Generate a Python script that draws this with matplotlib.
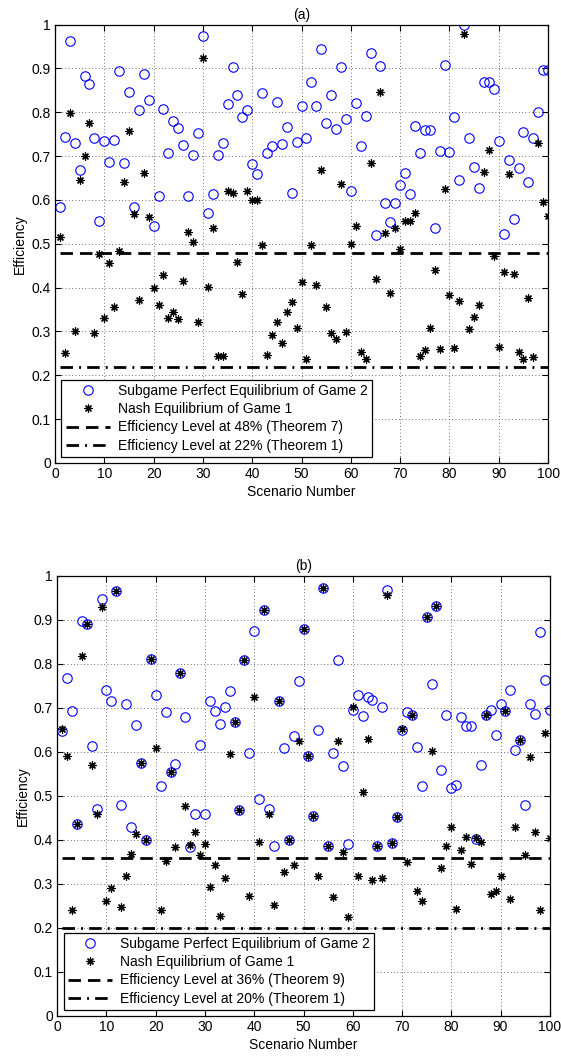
"""
Efficiency of equilibria over 100 scenarios, panels (a) and (b)
"""
import numpy as np
import matplotlib
matplotlib.use('Agg')
import matplotlib.pyplot as plt

plt.rcParams['font.family'] = ['Liberation Sans', 'DejaVu Sans']
plt.rcParams['font.size'] = 10

scenarios = np.arange(1, 101)

# panel (a)
a_spe = [0.583, 0.744, 0.963, 0.729, 0.668, 0.882, 0.865, 0.742, 0.553, 0.735,
         0.686, 0.737, 0.893, 0.684, 0.847, 0.584, 0.804, 0.887, 0.828, 0.541,
         0.609, 0.808, 0.706, 0.779, 0.765, 0.726, 0.610, 0.703, 0.753, 0.973,
         0.570, 0.614, 0.702, 0.730, 0.819, 0.904, 0.839, 0.790, 0.804, 0.681,
         0.660, 0.844, 0.706, 0.722, 0.823, 0.728, 0.767, 0.616, 0.732, 0.815,
         0.741, 0.870, 0.815, 0.944, 0.776, 0.839, 0.762, 0.904, 0.784, 0.620,
         0.821, 0.722, 0.791, 0.935, 0.519, 0.906, 0.593, 0.549, 0.592, 0.633,
         0.662, 0.614, 0.768, 0.706, 0.759, 0.759, 0.537, 0.711, 0.908, 0.710,
         0.790, 0.645, 0.998, 0.742, 0.676, 0.628, 0.868, 0.870, 0.854, 0.734,
         0.522, 0.691, 0.557, 0.673, 0.755, 0.640, 0.742, 0.801, 0.896, 0.896]
a_ne = [0.516, 0.251, 0.798, 0.300, 0.645, 0.700, 0.775, 0.296, 0.477, 0.331,
        0.456, 0.356, 0.484, 0.641, 0.757, 0.568, 0.372, 0.661, 0.561, 0.400,
        0.361, 0.429, 0.331, 0.345, 0.329, 0.416, 0.527, 0.504, 0.322, 0.924,
        0.401, 0.535, 0.243, 0.243, 0.620, 0.616, 0.459, 0.386, 0.621, 0.599,
        0.599, 0.498, 0.247, 0.292, 0.322, 0.274, 0.344, 0.367, 0.308, 0.413,
        0.236, 0.497, 0.407, 0.669, 0.355, 0.297, 0.283, 0.637, 0.299, 0.500,
        0.540, 0.252, 0.236, 0.684, 0.420, 0.846, 0.525, 0.388, 0.535, 0.488,
        0.553, 0.553, 0.569, 0.245, 0.257, 0.307, 0.439, 0.260, 0.626, 0.382,
        0.262, 0.369, 0.979, 0.306, 0.333, 0.361, 0.664, 0.713, 0.473, 0.265,
        0.435, 0.658, 0.430, 0.253, 0.236, 0.376, 0.241, 0.729, 0.595, 0.563]
a_levels = [0.48, 0.22]
a_labels = ['Efficiency Level at 48% (Theorem 7)', 'Efficiency Level at 22% (Theorem 1)']

# panel (b)
b_spe = [0.648, 0.767, 0.692, 0.436, 0.898, 0.890, 0.614, 0.471, 0.947, 0.741,
         0.715, 0.965, 0.479, 0.708, 0.429, 0.662, 0.575, 0.401, 0.812, 0.729,
         0.522, 0.691, 0.555, 0.572, 0.779, 0.679, 0.385, 0.458, 0.615, 0.458,
         0.716, 0.693, 0.664, 0.702, 0.739, 0.667, 0.468, 0.809, 0.598, 0.876,
         0.494, 0.923, 0.471, 0.386, 0.716, 0.608, 0.400, 0.636, 0.762, 0.880,
         0.591, 0.455, 0.650, 0.972, 0.386, 0.598, 0.810, 0.567, 0.391, 0.695,
         0.730, 0.682, 0.726, 0.717, 0.386, 0.702, 0.968, 0.392, 0.453, 0.650,
         0.691, 0.683, 0.611, 0.523, 0.906, 0.755, 0.932, 0.559, 0.683, 0.519,
         0.526, 0.679, 0.659, 0.659, 0.402, 0.571, 0.683, 0.695, 0.639, 0.708,
         0.692, 0.741, 0.604, 0.627, 0.479, 0.708, 0.686, 0.872, 0.763, 0.695]
b_ne = [0.652, 0.591, 0.242, 0.436, 0.818, 0.890, 0.570, 0.459, 0.930, 0.261,
        0.290, 0.965, 0.248, 0.317, 0.368, 0.414, 0.575, 0.401, 0.812, 0.608,
        0.242, 0.353, 0.555, 0.383, 0.779, 0.477, 0.388, 0.417, 0.366, 0.391,
        0.294, 0.343, 0.227, 0.314, 0.595, 0.667, 0.468, 0.809, 0.273, 0.724,
        0.395, 0.923, 0.458, 0.252, 0.716, 0.328, 0.400, 0.342, 0.625, 0.880,
        0.591, 0.455, 0.317, 0.972, 0.386, 0.271, 0.626, 0.373, 0.224, 0.703,
        0.317, 0.508, 0.629, 0.308, 0.386, 0.314, 0.957, 0.392, 0.453, 0.652,
        0.351, 0.685, 0.283, 0.262, 0.906, 0.602, 0.932, 0.336, 0.386, 0.429,
        0.243, 0.377, 0.406, 0.345, 0.405, 0.396, 0.683, 0.277, 0.285, 0.317,
        0.692, 0.267, 0.429, 0.627, 0.366, 0.589, 0.417, 0.241, 0.644, 0.405]
b_levels = [0.36, 0.20]
b_labels = ['Efficiency Level at 36% (Theorem 9)', 'Efficiency Level at 20% (Theorem 1)']

x_ticks = np.arange(0, 101, 10)
y_ticks = np.round(np.arange(0, 1.01, 0.1), 1)
y_ticklabels = ['0'] + ['%.1f' % v for v in y_ticks[1:-1]] + ['1']


def draw_panel(ax, spe, ne, levels, labels, title):
    ax.plot(scenarios, spe, linestyle='none', marker='o', markersize=6.8,
            markerfacecolor='none', markeredgecolor='blue', markeredgewidth=0.8,
            label='Subgame Perfect Equilibrium of Game 2')
    ax.plot(scenarios, ne, linestyle='none', marker=(8, 2, 0), markersize=5.8,
            color='k', markeredgewidth=0.85, label='Nash Equilibrium of Game 1')
    ax.plot([scenarios[0], scenarios[-1]], [levels[0]] * 2, color='k', lw=2,
            dashes=(4.5, 2.5), label=labels[0])
    ax.plot([scenarios[0], scenarios[-1]], [levels[1]] * 2, color='k', lw=2,
            dashes=(4.5, 2.2, 0.7, 2.2), label=labels[1])

    ax.set_xlim(0, 100)
    ax.set_ylim(0, 1)
    ax.set_xticks(x_ticks)
    ax.set_yticks(y_ticks)
    ax.set_yticklabels(y_ticklabels)
    ax.grid(True, color='0.25', linestyle=(0, (1, 3)), linewidth=0.6)
    ax.tick_params(direction='in', top=True, right=True, length=4, width=0.8,
                   labelsize=10, pad=3)
    for sp in ax.spines.values():
        sp.set_linewidth(0.9)
    ax.set_xlabel('Scenario Number', fontsize=10, labelpad=2.5)
    ax.set_ylabel('Efficiency', fontsize=10, labelpad=3)
    ax.set_title(title, fontsize=10, pad=4)
    leg = ax.legend(loc='lower left', bbox_to_anchor=(0.013, 0.014),
                    borderaxespad=0, fontsize=10, handlelength=3.2,
                    handletextpad=0.55, labelspacing=0.3, borderpad=0.3,
                    fancybox=False, framealpha=1, edgecolor='k')
    leg.get_frame().set_linewidth(0.9)


fig = plt.figure(figsize=(5.61, 10.57), dpi=100)
ax_a = fig.add_axes([0.098, 0.562, 0.879, 0.4148])
ax_b = fig.add_axes([0.102, 0.0388, 0.878, 0.4163])

draw_panel(ax_a, a_spe, a_ne, a_levels, a_labels, '(a)')
draw_panel(ax_b, b_spe, b_ne, b_levels, b_labels, '(b)')

fig.savefig('out.png', dpi=100)
